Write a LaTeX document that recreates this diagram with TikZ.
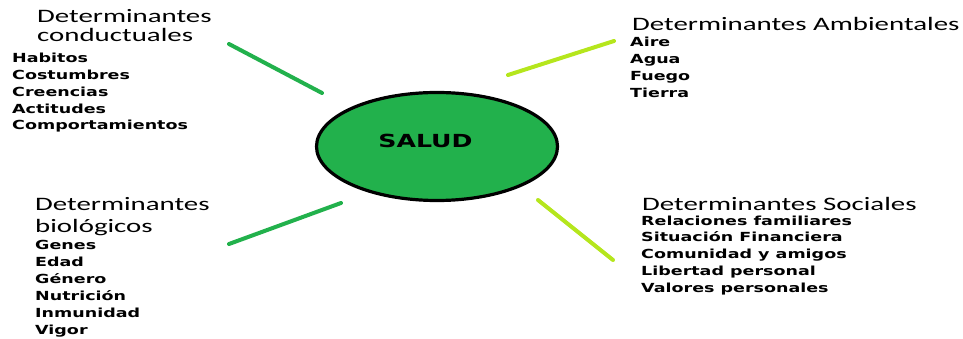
\documentclass[tikz,border=0pt]{standalone}
\usepackage{fontspec}
\usepackage{tikz}
\usetikzlibrary{shapes.geometric}
\setmainfont{Carlito}
\newfontfamily\headfont[FakeStretch=1.52]{Carlito}
\newfontfamily\itemfont[FakeStretch=1.4]{DejaVu Sans}
\definecolor{paintgreen}{HTML}{22B14C}
\definecolor{paintlime}{HTML}{B5E61D}

\begin{document}
\begin{tikzpicture}[x=1pt, y=-1pt,
    head/.style={anchor=base west, inner sep=0pt, font=\headfont\fontsize{19}{21}\selectfont},
    item/.style={anchor=base west, inner sep=0pt, font=\itemfont\bfseries\fontsize{12.5}{14}\selectfont},
    spoke/.style={line width=4pt, line cap=round}]
    \useasboundingbox (0,0) rectangle (963,339);
    % centre
    \node[ellipse, draw, line width=3.2pt, fill=paintgreen, minimum width=241pt, minimum height=108pt] (salud) at (437,146.5) {};
    \node[anchor=base, inner sep=0pt, font=\itemfont\bfseries\fontsize{18}{20}\selectfont] (saludtxt) at (425.5,147.5) {SALUD};
    % conductuales
    \node[head] (cond1) at (37,22.5) {Determinantes};
    \node[head] (cond2) at (37,42) {conductuales};
    \foreach \t [count=\i] in {Habitos, Costumbres, Creencias, Actitudes, Comportamientos}
      \node[item] (cond-\i) at (12, {63+16.75*(\i-1)}) {\t};
    % ambientales
    \node[head] (amb1) at (632,31) {Determinantes Ambientales};
    \foreach \t [count=\i] in {Aire, Agua, Fuego, Tierra}
      \node[item] (amb-\i) at (630, {47+17*(\i-1)}) {\t};
    % biologicos
    \node[head] (bio1) at (35,210.5) {Determinantes};
    \node[head] (bio2) at (35,232.5) {biológicos};
    \foreach \t [count=\i] in {Genes, Edad, Género, Nutrición, Inmunidad, Vigor}
      \node[item] (bio-\i) at (35, {249+17.1*(\i-1)}) {\t};
    % sociales
    \node[head] (soc1) at (642,210) {Determinantes Sociales};
    \foreach \t [count=\i] in {Relaciones familiares, Situación Financiera, Comunidad y amigos, Libertad personal, Valores personales}
      \node[item] (soc-\i) at (641, {225+16.75*(\i-1)}) {\t};
    % spokes
    \coordinate (cond-a) at (229,44);  \coordinate (cond-b) at (322,93);
    \coordinate (amb-a) at (508,75);   \coordinate (amb-b) at (614,41);
    \coordinate (bio-a) at (229,244);  \coordinate (bio-b) at (341,203);
    \coordinate (soc-a) at (538,200);  \coordinate (soc-b) at (613,260);
    \draw[spoke, paintgreen] (cond-a) -- (cond-b);
    \draw[spoke, paintlime] (amb-a) -- (amb-b);
    \draw[spoke, paintgreen] (bio-a) -- (bio-b);
    \draw[spoke, paintlime] (soc-a) -- (soc-b);
\end{tikzpicture}
\end{document}
